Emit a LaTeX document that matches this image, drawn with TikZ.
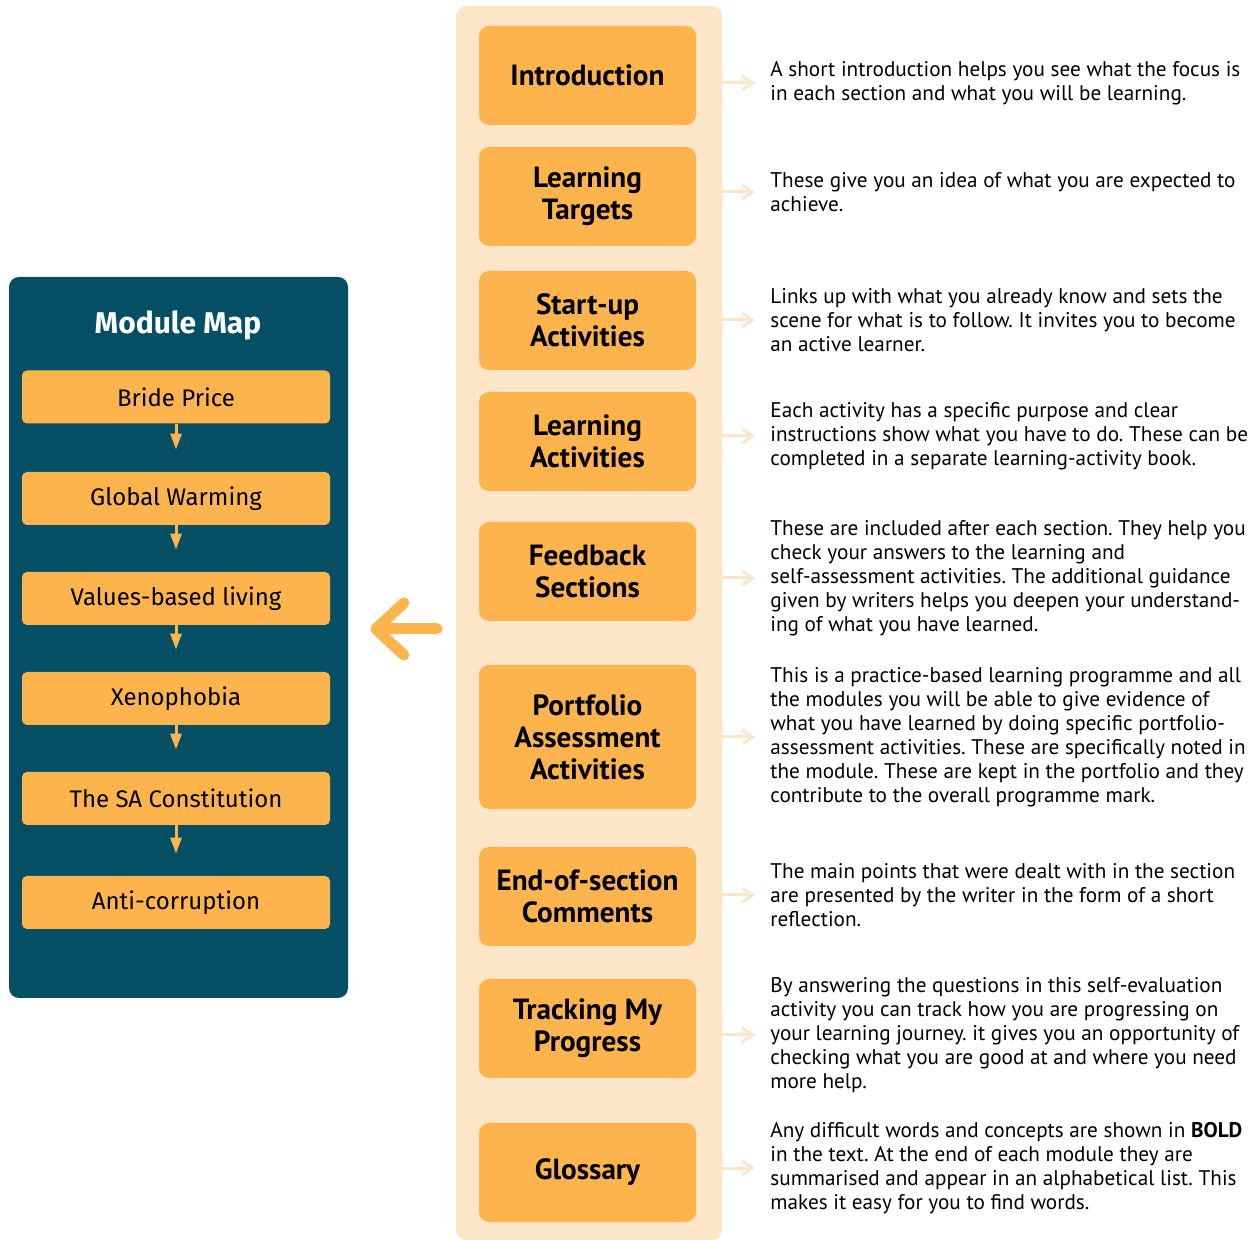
\documentclass[tikz,border=0pt]{standalone}
\usepackage{fontspec}
\setmainfont{PT Sans}
\newfontfamily\mapfont{Fira Sans}
\usetikzlibrary{arrows.meta}
\definecolor{mapteal}{HTML}{054F65}
\definecolor{boxorange}{HTML}{FDB44C}
\definecolor{peach}{HTML}{FDE5C7}
\frenchspacing
\begin{document}
\begin{tikzpicture}[x=0.5pt,y=-0.5pt,
  mapbox/.style={fill=boxorange, rounded corners=2.5pt, minimum width=154pt,
    minimum height=26.5pt, inner sep=0pt, font=\mapfont\fontsize{12}{14}\selectfont},
  partbox/.style={fill=boxorange, rounded corners=5pt, minimum width=108.5pt,
    minimum height=49.5pt, align=center, inner sep=0pt,
    font=\bfseries\fontsize{14.6}{16}\selectfont},
  desc/.style={anchor=west, align=left, inner sep=0pt,
    font=\fontsize{10.6}{12}\selectfont},
  maparrow/.style={draw=boxorange, line width=1.5pt, shorten >=11pt,
    -{Triangle[length=8pt,width=5.5pt]}},
  descarrow/.style={draw=peach, line width=1.5pt, shorten >=7.5pt,
    -{Straight Barb[length=5pt,width=7pt]}}]
  \useasboundingbox (0,0) rectangle (1260,1240);

  % module map panel
  \node[fill=mapteal, rounded corners=5pt, minimum width=169.5pt,
    minimum height=360.5pt] (map) at (178.5,637.5) {};
  \node[text=white, font=\mapfont\bfseries\fontsize{15}{18}\selectfont]
    (maptitle) at (178,325) {Module Map};
  \node[mapbox] (m1) at (176,397) {Bride Price};
  \node[mapbox] (m2) at (176,498.5) {Global Warming};
  \node[mapbox] (m3) at (176,598.5) {Values-based living};
  \node[mapbox] (m4) at (176,698.5) {Xenophobia};
  \node[mapbox] (m5) at (176,798.5) {The SA Constitution};
  \node[mapbox] (m6) at (176,902.5) {Anti-corruption};
  \foreach \a/\b in {m1/m2,m2/m3,m3/m4,m4/m5,m5/m6}
    \draw[maparrow] (\a.south) -- (\b.north);

  % parts of a module
  \node[fill=peach, rounded corners=5pt, minimum width=133pt,
    minimum height=617pt] (col) at (589,623) {};
  \node[partbox] (s1) at (587.5,75.5) {Introduction};
  \node[partbox] (s2) at (587.5,196.5) {Learning\\Targets};
  \node[partbox] (s3) at (587.5,320.5) {Start-up\\Activities};
  \node[partbox] (s4) at (587.5,441.5) {Learning\\Activities};
  \node[partbox] (s5) at (587.5,571.5) {Feedback\\Sections};
  \node[partbox, minimum height=72pt] (s6) at (587.5,737) {Portfolio\\Assessment\\Activities};
  \node[partbox] (s7) at (587.5,896.5) {End-of-section\\Comments};
  \node[partbox] (s8) at (587.5,1028.5) {Tracking My\\Progress};
  \node[partbox] (s9) at (587.5,1172.5) {Glossary};

  % big arrow back to the map
  \coordinate (bigtail) at (437,629);
  \draw[boxorange, line width=5.5pt, line cap=round, shorten >=11pt,
    -{Straight Barb[round,length=14pt,width=26pt]}]
    (bigtail) -- (bigtail -| map.east);

  % descriptions
  \node[desc] (d1) at (770,83) {A short introduction helps you see what the focus is\\
    in each section and what you will be learning.};
  \node[desc] (d2) at (770,192) {These give you an idea of what you are expected to\\
    achieve.};
  \node[desc] (d3) at (770,320) {Links up with what you already know and sets the\\
    scene for what is to follow. It invites you to become\\
    an active learner.};
  \node[desc] (d4) at (770,436) {Each activity has a specific purpose and clear\\
    instructions show what you have to do. These can be\\
    completed in a separate learning-activity book.};
  \node[desc] (d5) at (770,578) {These are included after each section. They help you\\
    check your answers to the learning and\\
    self-assessment activities. The additional guidance\\
    given by writers helps you deepen your understand-\\
    ing of what you have learned.};
  \node[desc] (d6) at (770,737) {This is a practice-based learning programme and all\\
    the modules you will be able to give evidence of\\
    what you have learned by doing specific portfolio-\\
    assessment activities. These are specifically noted in\\
    the module. These are kept in the portfolio and they\\
    contribute to the overall programme mark.};
  \node[desc] (d7) at (770,895) {The main points that were dealt with in the section\\
    are presented by the writer in the form of a short\\
    reflection.};
  \node[desc] (d8) at (770,1035) {By answering the questions in this self-evaluation\\
    activity you can track how you are progressing on\\
    your learning journey. it gives you an opportunity of\\
    checking what you are good at and where you need\\
    more help.};
  \node[desc] (d9) at (770,1168) {Any difficult words and concepts are shown in \textbf{BOLD}\\
    in the text. At the end of each module they are\\
    summarised and appear in an alphabetical list. This\\
    makes it easy for you to find words.};
  \foreach \i in {1,...,9}
    \draw[descarrow] (d\i.west -| col.east) -- (d\i.west);
\end{tikzpicture}
\end{document}
